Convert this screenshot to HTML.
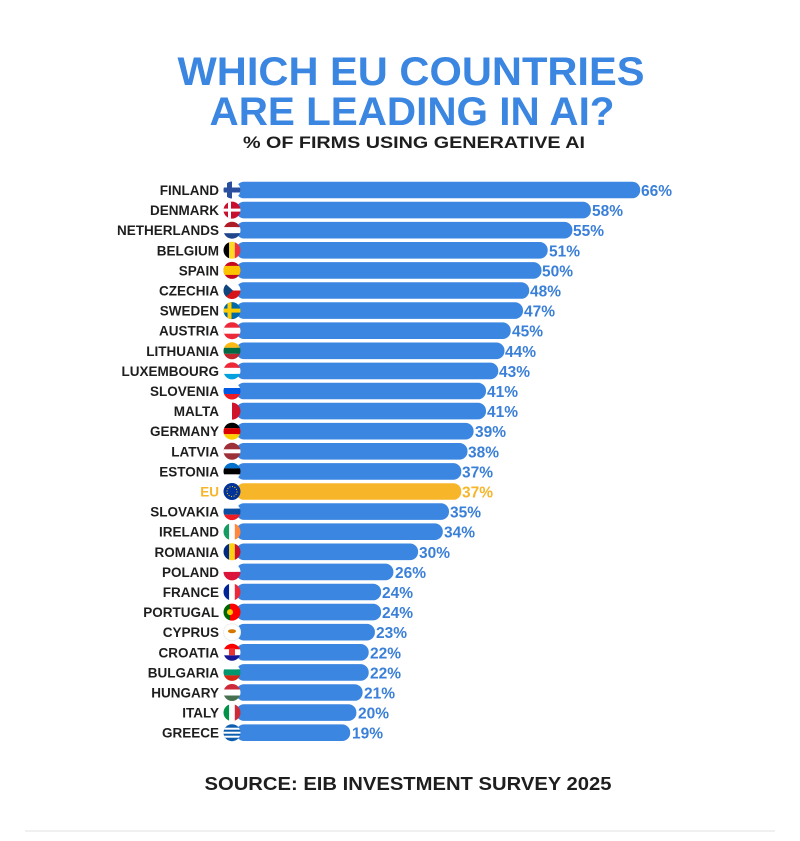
<!DOCTYPE html><html><head><style>body{margin:0;background:#fff}svg{display:block}.l{font-size:13.5px;fill:#1e1e1e;text-anchor:end}.v{font-size:15.5px;fill:#3a7fd8}</style></head><body>
<svg width="800" height="841" xmlns="http://www.w3.org/2000/svg" font-family="Liberation Sans, sans-serif" font-weight="bold">
<defs><clipPath id="f"><circle cx="232" cy="0" r="8.5"/></clipPath></defs>
<text x="411" y="85" text-anchor="middle" font-size="40" fill="#3a86e0" textLength="467" lengthAdjust="spacingAndGlyphs">WHICH EU COUNTRIES</text>
<text x="412" y="125" text-anchor="middle" font-size="40" fill="#3a86e0" textLength="405" lengthAdjust="spacingAndGlyphs">ARE LEADING IN AI?</text>
<text x="414" y="148" text-anchor="middle" font-size="17" fill="#1e1e1e" textLength="342" lengthAdjust="spacingAndGlyphs">% OF FIRMS USING GENERATIVE AI</text>

<g transform="translate(0,190)"><rect x="236" y="-8.3" width="404.2" height="16.6" rx="8" fill="#3a86e0"/><text class="l" x="219" y="5">FINLAND</text><text class="v" x="641" y="6">66%</text><g clip-path="url(#f)"><rect x="223" y="-9" width="18" height="18" fill="#fff"/><rect x="223" y="-2.5" width="18" height="5" fill="#2a4f9e"/><rect x="227" y="-9" width="5" height="18" fill="#2a4f9e"/></g></g>
<g transform="translate(0,210.1)"><rect x="236" y="-8.3" width="354.9" height="16.6" rx="8" fill="#3a86e0"/><text class="l" x="219" y="5">DENMARK</text><text class="v" x="592" y="6">58%</text><g clip-path="url(#f)"><rect x="223" y="-9" width="18" height="18" fill="#c8102e"/><rect x="223" y="-1.5" width="18" height="3" fill="#fff"/><rect x="228" y="-9" width="3" height="18" fill="#fff"/></g></g>
<g transform="translate(0,230.2)"><rect x="236" y="-8.3" width="336.4" height="16.6" rx="8" fill="#3a86e0"/><text class="l" x="219" y="5">NETHERLANDS</text><text class="v" x="573" y="6">55%</text><g clip-path="url(#f)"><rect x="223" y="-9" width="18" height="6" fill="#ae1c28"/><rect x="223" y="-3" width="18" height="6" fill="#fff"/><rect x="223" y="3" width="18" height="6" fill="#21468b"/></g></g>
<g transform="translate(0,250.3)"><rect x="236" y="-8.3" width="311.7" height="16.6" rx="8" fill="#3a86e0"/><text class="l" x="219" y="5">BELGIUM</text><text class="v" x="549" y="6">51%</text><g clip-path="url(#f)"><rect x="223" y="-9" width="6.2" height="18" fill="#000"/><rect x="229.2" y="-9" width="5.6" height="18" fill="#fdda24"/><rect x="234.8" y="-9" width="6" height="18" fill="#ef3340"/></g></g>
<g transform="translate(0,270.4)"><rect x="236" y="-8.3" width="305.5" height="16.6" rx="8" fill="#3a86e0"/><text class="l" x="219" y="5">SPAIN</text><text class="v" x="542" y="6">50%</text><g clip-path="url(#f)"><rect x="223" y="-9" width="18" height="18" fill="#c60b1e"/><rect x="223" y="-4.5" width="18" height="9" fill="#ffc400"/></g></g>
<g transform="translate(0,290.5)"><rect x="236" y="-8.3" width="293.2" height="16.6" rx="8" fill="#3a86e0"/><text class="l" x="219" y="5">CZECHIA</text><text class="v" x="530" y="6">48%</text><g clip-path="url(#f)"><rect x="223" y="-9" width="18" height="9" fill="#fff"/><rect x="223" y="0" width="18" height="9" fill="#d7141a"/><path d="M223,-9 L233,0 L223,9Z" fill="#11457e"/></g></g>
<g transform="translate(0,310.6)"><rect x="236" y="-8.3" width="287" height="16.6" rx="8" fill="#3a86e0"/><text class="l" x="219" y="5">SWEDEN</text><text class="v" x="524" y="6">47%</text><g clip-path="url(#f)"><rect x="223" y="-9" width="18" height="18" fill="#006aa7"/><rect x="223" y="-2" width="18" height="4" fill="#fecc00"/><rect x="227.5" y="-9" width="4" height="18" fill="#fecc00"/></g></g>
<g transform="translate(0,330.7)"><rect x="236" y="-8.3" width="274.7" height="16.6" rx="8" fill="#3a86e0"/><text class="l" x="219" y="5">AUSTRIA</text><text class="v" x="512" y="6">45%</text><g clip-path="url(#f)"><rect x="223" y="-9" width="18" height="18" fill="#ed2939"/><rect x="223" y="-3" width="18" height="6" fill="#fff"/></g></g>
<g transform="translate(0,350.8)"><rect x="236" y="-8.3" width="268.5" height="16.6" rx="8" fill="#3a86e0"/><text class="l" x="219" y="5">LITHUANIA</text><text class="v" x="505" y="6">44%</text><g clip-path="url(#f)"><rect x="223" y="-9" width="18" height="6" fill="#fdb913"/><rect x="223" y="-3" width="18" height="6" fill="#006a44"/><rect x="223" y="3" width="18" height="6" fill="#c1272d"/></g></g>
<g transform="translate(0,370.9)"><rect x="236" y="-8.3" width="262.3" height="16.6" rx="8" fill="#3a86e0"/><text class="l" x="219" y="5">LUXEMBOURG</text><text class="v" x="499" y="6">43%</text><g clip-path="url(#f)"><rect x="223" y="-9" width="18" height="6" fill="#ed2939"/><rect x="223" y="-3" width="18" height="6" fill="#fff"/><rect x="223" y="3" width="18" height="6" fill="#00a1de"/></g></g>
<g transform="translate(0,391)"><rect x="236" y="-8.3" width="250" height="16.6" rx="8" fill="#3a86e0"/><text class="l" x="219" y="5">SLOVENIA</text><text class="v" x="487" y="6">41%</text><g clip-path="url(#f)"><rect x="223" y="-9" width="18" height="6" fill="#fff"/><rect x="223" y="-3" width="18" height="6" fill="#005ce5"/><rect x="223" y="3" width="18" height="6" fill="#ed1c24"/></g></g>
<g transform="translate(0,411.1)"><rect x="236" y="-8.3" width="250" height="16.6" rx="8" fill="#3a86e0"/><text class="l" x="219" y="5">MALTA</text><text class="v" x="487" y="6">41%</text><g clip-path="url(#f)"><rect x="223" y="-9" width="9" height="18" fill="#fff"/><rect x="232" y="-9" width="9" height="18" fill="#cf142b"/></g></g>
<g transform="translate(0,431.2)"><rect x="236" y="-8.3" width="237.6" height="16.6" rx="8" fill="#3a86e0"/><text class="l" x="219" y="5">GERMANY</text><text class="v" x="475" y="6">39%</text><g clip-path="url(#f)"><rect x="223" y="-9" width="18" height="6" fill="#000"/><rect x="223" y="-3" width="18" height="6" fill="#dd0000"/><rect x="223" y="3" width="18" height="6" fill="#ffce00"/></g></g>
<g transform="translate(0,451.3)"><rect x="236" y="-8.3" width="231.5" height="16.6" rx="8" fill="#3a86e0"/><text class="l" x="219" y="5">LATVIA</text><text class="v" x="468" y="6">38%</text><g clip-path="url(#f)"><rect x="223" y="-9" width="18" height="18" fill="#9e3039"/><rect x="223" y="-2" width="18" height="4" fill="#fff"/></g></g>
<g transform="translate(0,471.4)"><rect x="236" y="-8.3" width="225.3" height="16.6" rx="8" fill="#3a86e0"/><text class="l" x="219" y="5">ESTONIA</text><text class="v" x="462" y="6">37%</text><g clip-path="url(#f)"><rect x="223" y="-9" width="18" height="6" fill="#0072ce"/><rect x="223" y="-3" width="18" height="6" fill="#000"/><rect x="223" y="3" width="18" height="6" fill="#fff"/></g></g>
<g transform="translate(0,491.5)"><rect x="236" y="-8.3" width="225.3" height="16.6" rx="8" fill="#f7b52a"/><text class="l" x="219" y="5" style="fill:#f7b52a">EU</text><text class="v" x="462" y="6" style="fill:#f7b52a">37%</text><circle cx="232" cy="0" r="8.5" fill="#003399"/><circle cx="232" cy="0" r="5" fill="none" stroke="#ffcc00" stroke-width="1" stroke-dasharray="1 1.6"/></g>
<g transform="translate(0,511.6)"><rect x="236" y="-8.3" width="213" height="16.6" rx="8" fill="#3a86e0"/><text class="l" x="219" y="5">SLOVAKIA</text><text class="v" x="450" y="6">35%</text><g clip-path="url(#f)"><rect x="223" y="-9" width="18" height="6" fill="#fff"/><rect x="223" y="-3" width="18" height="6" fill="#0b4ea2"/><rect x="223" y="3" width="18" height="6" fill="#ee1c25"/></g></g>
<g transform="translate(0,531.7)"><rect x="236" y="-8.3" width="206.8" height="16.6" rx="8" fill="#3a86e0"/><text class="l" x="219" y="5">IRELAND</text><text class="v" x="444" y="6">34%</text><g clip-path="url(#f)"><rect x="223" y="-9" width="6.2" height="18" fill="#169b62"/><rect x="229.2" y="-9" width="5.6" height="18" fill="#fff"/><rect x="234.8" y="-9" width="6" height="18" fill="#ff883e"/></g></g>
<g transform="translate(0,551.8)"><rect x="236" y="-8.3" width="182.1" height="16.6" rx="8" fill="#3a86e0"/><text class="l" x="219" y="5">ROMANIA</text><text class="v" x="419" y="6">30%</text><g clip-path="url(#f)"><rect x="223" y="-9" width="6.2" height="18" fill="#002b7f"/><rect x="229.2" y="-9" width="5.6" height="18" fill="#fcd116"/><rect x="234.8" y="-9" width="6" height="18" fill="#ce1126"/></g></g>
<g transform="translate(0,571.9)"><rect x="236" y="-8.3" width="157.4" height="16.6" rx="8" fill="#3a86e0"/><text class="l" x="219" y="5">POLAND</text><text class="v" x="395" y="6">26%</text><g clip-path="url(#f)"><rect x="223" y="-9" width="18" height="9" fill="#fff"/><rect x="223" y="0" width="18" height="9" fill="#dc143c"/></g></g>
<g transform="translate(0,592)"><rect x="236" y="-8.3" width="145.1" height="16.6" rx="8" fill="#3a86e0"/><text class="l" x="219" y="5">FRANCE</text><text class="v" x="382" y="6">24%</text><g clip-path="url(#f)"><rect x="223" y="-9" width="6.2" height="18" fill="#002395"/><rect x="229.2" y="-9" width="5.6" height="18" fill="#fff"/><rect x="234.8" y="-9" width="6" height="18" fill="#ed2939"/></g></g>
<g transform="translate(0,612.1)"><rect x="236" y="-8.3" width="145.1" height="16.6" rx="8" fill="#3a86e0"/><text class="l" x="219" y="5">PORTUGAL</text><text class="v" x="382" y="6">24%</text><g clip-path="url(#f)"><rect x="223" y="-9" width="7" height="18" fill="#006600"/><rect x="230" y="-9" width="11" height="18" fill="#ff0000"/><circle cx="230" cy="0" r="3" fill="#ffcc00"/></g></g>
<g transform="translate(0,632.2)"><rect x="236" y="-8.3" width="138.9" height="16.6" rx="8" fill="#3a86e0"/><text class="l" x="219" y="5">CYPRUS</text><text class="v" x="376" y="6">23%</text><circle cx="232" cy="0" r="8.5" fill="#fff" stroke="#eee"/><ellipse cx="232" cy="-1" rx="4" ry="2" fill="#d57800"/></g>
<g transform="translate(0,652.3)"><rect x="236" y="-8.3" width="132.7" height="16.6" rx="8" fill="#3a86e0"/><text class="l" x="219" y="5">CROATIA</text><text class="v" x="370" y="6">22%</text><g clip-path="url(#f)"><rect x="223" y="-9" width="18" height="6" fill="#ff0000"/><rect x="223" y="-3" width="18" height="6" fill="#fff"/><rect x="223" y="3" width="18" height="6" fill="#171796"/><rect x="229" y="-4" width="6" height="7" fill="#e33"/></g></g>
<g transform="translate(0,672.4)"><rect x="236" y="-8.3" width="132.7" height="16.6" rx="8" fill="#3a86e0"/><text class="l" x="219" y="5">BULGARIA</text><text class="v" x="370" y="6">22%</text><g clip-path="url(#f)"><rect x="223" y="-9" width="18" height="6" fill="#fff"/><rect x="223" y="-3" width="18" height="6" fill="#00966e"/><rect x="223" y="3" width="18" height="6" fill="#d62612"/></g></g>
<g transform="translate(0,692.5)"><rect x="236" y="-8.3" width="126.6" height="16.6" rx="8" fill="#3a86e0"/><text class="l" x="219" y="5">HUNGARY</text><text class="v" x="364" y="6">21%</text><g clip-path="url(#f)"><rect x="223" y="-9" width="18" height="6" fill="#ce2939"/><rect x="223" y="-3" width="18" height="6" fill="#fff"/><rect x="223" y="3" width="18" height="6" fill="#477050"/></g></g>
<g transform="translate(0,712.6)"><rect x="236" y="-8.3" width="120.4" height="16.6" rx="8" fill="#3a86e0"/><text class="l" x="219" y="5">ITALY</text><text class="v" x="358" y="6">20%</text><g clip-path="url(#f)"><rect x="223" y="-9" width="6.2" height="18" fill="#009246"/><rect x="229.2" y="-9" width="5.6" height="18" fill="#fff"/><rect x="234.8" y="-9" width="6" height="18" fill="#ce2b37"/></g></g>
<g transform="translate(0,732.7)"><rect x="236" y="-8.3" width="114.2" height="16.6" rx="8" fill="#3a86e0"/><text class="l" x="219" y="5">GREECE</text><text class="v" x="352" y="6">19%</text><g clip-path="url(#f)"><rect x="223" y="-9" width="18" height="18" fill="#0d5eaf"/><rect x="223" y="-5" width="18" height="2" fill="#fff"/><rect x="223" y="-1" width="18" height="2" fill="#fff"/><rect x="223" y="3" width="18" height="2" fill="#fff"/></g></g>

<text x="408" y="790" text-anchor="middle" font-size="18" fill="#1e1e1e" textLength="407" lengthAdjust="spacingAndGlyphs">SOURCE: EIB INVESTMENT SURVEY 2025</text>
<rect x="25" y="830" width="750" height="2" fill="#f0f0f0"/>
</svg></body></html>
